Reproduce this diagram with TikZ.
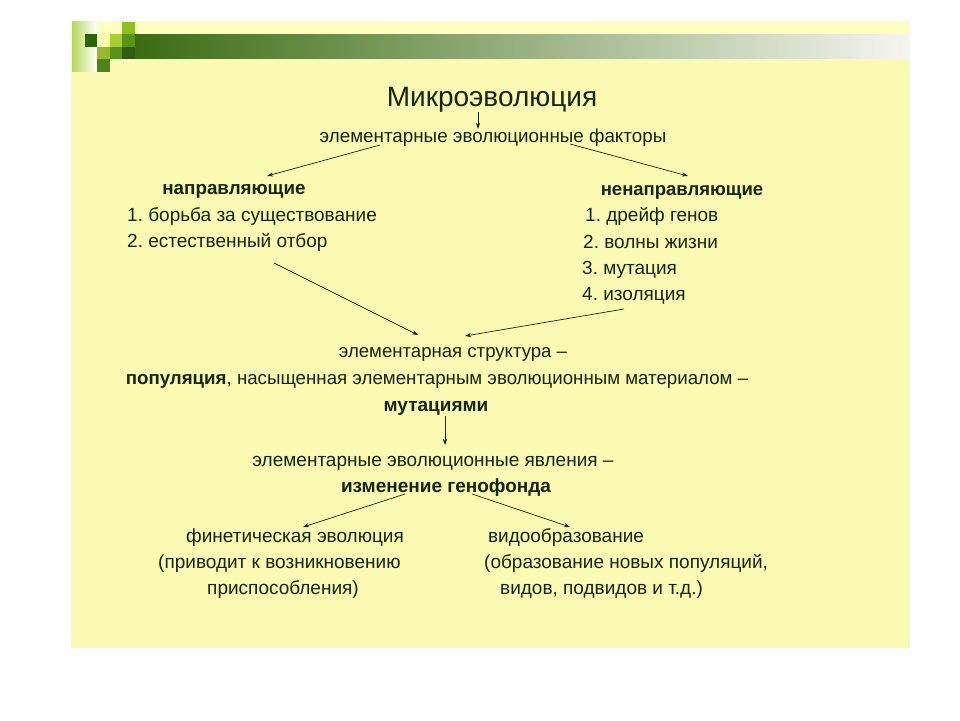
\documentclass[tikz,border=0pt]{standalone}
\usepackage{fontspec}
\usepackage{graphicx}
\setmainfont{Liberation Sans}
\usetikzlibrary{arrows.meta}
\definecolor{bg}{RGB}{250,250,178}
\definecolor{bgtop}{RGB}{255,255,192}
\definecolor{ink}{RGB}{20,38,4}
\definecolor{bardark}{RGB}{58,108,18}
\definecolor{barlight}{RGB}{246,246,240}
\definecolor{sqdark}{RGB}{44,100,10}
\definecolor{sqbright}{RGB}{140,192,30}
\definecolor{sqyg}{RGB}{168,206,48}
\definecolor{sqmid}{RGB}{88,148,24}
\frenchspacing
\begin{document}
\begin{tikzpicture}[x=1pt,y=-1pt,
  txt/.style={inner sep=0pt,text=ink,font=\fontsize{19}{22}\selectfont},
  ttl/.style={inner sep=0pt,text=ink,font=\fontsize{28}{32}\selectfont},
  arr/.style={draw=ink,line width=0.7pt,-{Stealth[length=6pt,width=4pt]}}]
\useasboundingbox (0,0) rectangle (960,720);
\fill[white] (0,0) rectangle (960,720);
\fill[bg] (71,21) rectangle (910,648);
\fill[bgtop] (71,21) rectangle (910,34);
% decoration
\shade[left color=bardark,right color=barlight] (134.5,34) rectangle (910,58.5);
\shade[left color=sqyg!80!white,right color=white] (72,21.5) rectangle (97,71.5);
\fill[sqdark] (84.5,34) rectangle (97,46.5);
\fill[sqbright] (122,21.5) rectangle (134.5,34);
\fill[sqyg] (109.5,34) rectangle (122,46.5);
\fill[sqmid] (122,34) rectangle (134.5,46.5);
\fill[sqyg!90!black] (97,46.5) rectangle (109.5,58.5);
\fill[sqmid] (109.5,46.5) rectangle (122,58.5);
\fill[bardark!85!black] (122,46.5) rectangle (134.5,58.5);
\fill[sqmid!90!black] (97,58.5) rectangle (109.5,71.5);
% texts
\node[ttl,anchor=base] (title) at (492,106) {Микроэволюция};
\node[txt,anchor=base,font=\fontsize{18.8}{22}\selectfont] (factors) at (493,142) {элементарные эволюционные факторы};
\node[txt,anchor=base,font=\fontsize{18.8}{22}\selectfont\bfseries] (dir) at (234,194) {направляющие};
\node[txt,anchor=base west] (d1) at (127,221) {1. борьба за существование};
\node[txt,anchor=base west] (d2) at (127,247) {2. естественный отбор};
\node[txt,anchor=base,font=\fontsize{18.5}{22}\selectfont\bfseries] (ndir) at (682,195) {ненаправляющие};
\node[txt,anchor=base west] (n1) at (585,221) {1. дрейф генов};
\node[txt,anchor=base west] (n2) at (583,248) {2. волны жизни};
\node[txt,anchor=base west] (n3) at (582,274) {3. мутация};
\node[txt,anchor=base west] (n4) at (582,300) {4. изоляция};
\node[txt,anchor=base,font=\fontsize{18.6}{22}\selectfont] (struct) at (453,357) {элементарная структура –};
\node[txt,anchor=base,font=\fontsize{18.7}{22}\selectfont] (pop) at (437,384) {\textbf{популяция}, насыщенная элементарным эволюционным материалом –};
\node[txt,anchor=base,font=\fontsize{19}{22}\selectfont\bfseries] (mut) at (436,411) {мутациями};
\node[txt,anchor=base] (phen) at (433,466) {элементарные эволюционные явления –};
\node[txt,anchor=base,font=\fontsize{19}{22}\selectfont\bfseries] (gene) at (446,492) {изменение генофонда};
\node[txt,anchor=base] (phyl) at (295,542) {финетическая эволюция};
\node[txt,anchor=base west] (phyl2) at (158,568) {(приводит к возникновению};
\node[txt,anchor=base] (phyl3) at (283,594) {приспособления)};
\node[txt,anchor=base] (spec) at (566,542) {видообразование};
\node[txt,anchor=base west] (spec2) at (484,568) {(образование новых популяций,};
\node[txt,anchor=base west] (spec3) at (500,594) {видов, подвидов и т.д.)};
% connector ends
\coordinate (t0) at (478,112);
\coordinate (t1) at (478,129);
\coordinate (fl0) at (380,145);
\coordinate (fl1) at (267,176);
\coordinate (fr0) at (570,144);
\coordinate (fr1) at (688,176);
\coordinate (dl0) at (274,263);
\coordinate (dl1) at (418,335);
\coordinate (nr0) at (624,309);
\coordinate (nr1) at (465,336);
\coordinate (m0) at (445,416);
\coordinate (m1) at (445,445);
\coordinate (gl0) at (405,494);
\coordinate (gl1) at (303,527);
\coordinate (gr0) at (472,494);
\coordinate (gr1) at (570,527);
\draw[arr] (t0) -- (t1);
\draw[arr] (fl0) -- (fl1);
\draw[arr] (fr0) -- (fr1);
\draw[arr] (dl0) -- (dl1);
\draw[arr] (nr0) -- (nr1);
\draw[arr] (m0) -- (m1);
\draw[arr] (gl0) -- (gl1);
\draw[arr] (gr0) -- (gr1);
\end{tikzpicture}
\end{document}
